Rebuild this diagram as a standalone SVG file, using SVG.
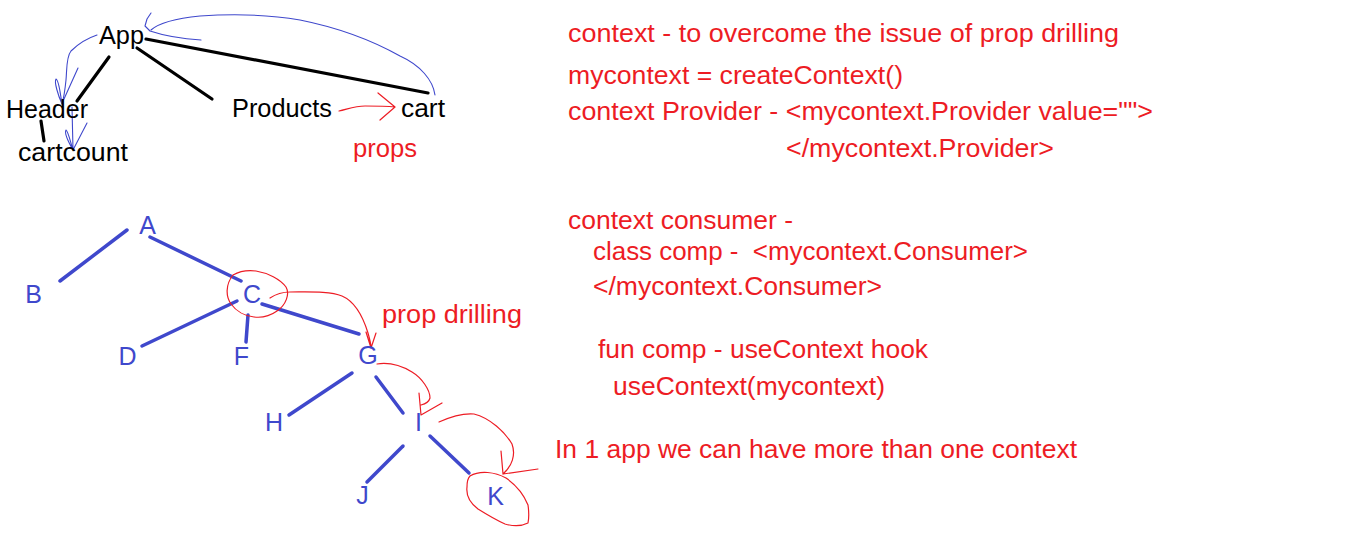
<svg xmlns="http://www.w3.org/2000/svg" width="1360" height="551" viewBox="0 0 1360 551">
<style>
text{font-family:"Liberation Sans",Arial,sans-serif;font-size:25px;white-space:pre}
.k{fill:#000}
.r{fill:#ed1c24}
.b{fill:#3f48cc}
.t{text-anchor:middle}
.bl{stroke:#000;stroke-width:3.2;fill:none;stroke-linecap:round}
.tl{stroke:#3f48cc;stroke-width:3.5;fill:none;stroke-linecap:round}
.th{stroke:#3f48cc;stroke-width:1.1;fill:none;stroke-linecap:round;stroke-linejoin:round}
.rh{stroke:#ed1c24;stroke-width:1.2;fill:none;stroke-linecap:round;stroke-linejoin:round}
</style>
<rect width="1360" height="551" fill="#fff"/>
<g id="connectors">
<line class="bl" x1="109" y1="57" x2="77" y2="101"/>
<line class="bl" x1="137" y1="48" x2="212" y2="99"/>
<line class="bl" x1="146" y1="39" x2="428" y2="93"/>
<line class="bl" x1="41" y1="121" x2="44" y2="141"/>
<path class="th" d="M435,95 C433,80 420,65 400,56 C375,42 340,28 300,20 C265,14 230,14 200,16 C180,18 160,22 151,30"/>
<path class="th" d="M150,31 L145,26 L147,19 L151,13 M150,31 C165,36 185,39 201,40"/>
<path class="th" d="M97,35 C88,38 78,44 71,51 C66,57 67,70 66,80 C65,90 64,97 62,104"/>
<path class="th" d="M62,104 C58,95 54,82 56,79 C59,80 60,92 62,104 M64,99 L78,68"/>
<path class="th" d="M72,107 L73,150 M73,150 C69,143 64,133 66,130 C68,131 70,140 73,150 M73,150 L87,123"/>
<path class="rh" d="M339,111 C348,109 355,106 365,106 C375,106 385,106 395,107 M395,107 L378,93 M395,107 L380,120"/>
<line class="tl" x1="127" y1="230" x2="60" y2="281"/>
<line class="tl" x1="150" y1="237" x2="241" y2="281"/>
<line class="tl" x1="237" y1="301" x2="142" y2="346"/>
<line class="tl" x1="248" y1="315" x2="246" y2="342"/>
<line class="tl" x1="262" y1="304" x2="359" y2="334"/>
<line class="tl" x1="352" y1="373" x2="289" y2="415"/>
<line class="tl" x1="376" y1="377" x2="403" y2="413"/>
<line class="tl" x1="403" y1="446" x2="367" y2="482"/>
<line class="tl" x1="430" y1="436" x2="469" y2="473"/>
<path class="rh" d="M233,275 C240,271 248,270 256,271 C268,273 280,279 286,287 C290,294 286,305 277,311 C270,316 262,318 254,317 C245,316 236,311 231,304 C226,297 225,285 233,275"/>
<path class="rh" d="M270,298 C276,294 282,292 290,292 C310,292 330,291 342,296 C356,302 364,320 368,333 C370,340 371,344 371,348 M371,348 L366,332 M371,348 L376,333"/>
<path class="rh" d="M377,364 C390,362 402,366 412,372 C422,378 430,390 430,398 C429,402 425,404 421,405 M419,393 L421,415 L442,403"/>
<path class="rh" d="M439,422 C450,417 462,413 474,414 C490,418 505,432 512,444 C516,455 512,466 503,474 M501,451 L503,474 L538,469"/>
<path class="rh" d="M470,476 C480,470 495,472 506,478 C516,485 524,495 528,505 C529,512 529,518 528,523 C520,527 512,526 505,524 C496,520 486,514 478,509 C470,503 466,495 467,487 C467,482 468,478 470,476"/>
</g>
<g id="app"><text class="k" x="99" y="44" textLength="45" lengthAdjust="spacingAndGlyphs">App</text></g>
<g id="header"><text class="k" x="6" y="118" textLength="82" lengthAdjust="spacingAndGlyphs">Header</text></g>
<g id="cartcount"><text class="k" x="18" y="161" textLength="110" lengthAdjust="spacingAndGlyphs">cartcount</text></g>
<g id="products"><text class="k" x="232" y="117" textLength="100" lengthAdjust="spacingAndGlyphs">Products</text></g>
<g id="cart"><text class="k" x="401" y="117" textLength="44" lengthAdjust="spacingAndGlyphs">cart</text></g>
<g id="props-label"><text class="r" x="353" y="157" textLength="64" lengthAdjust="spacingAndGlyphs">props</text></g>
<g id="node-a"><text class="b t" x="147.5" y="234">A</text></g>
<g id="node-b"><text class="b t" x="33.5" y="303">B</text></g>
<g id="node-c"><text class="b t" x="252" y="303">C</text></g>
<g id="node-d"><text class="b t" x="127.5" y="365">D</text></g>
<g id="node-f"><text class="b t" x="241.5" y="365">F</text></g>
<g id="node-g"><text class="b t" x="368" y="364">G</text></g>
<g id="node-h"><text class="b t" x="274" y="431">H</text></g>
<g id="node-i"><text class="b t" x="418.5" y="431">I</text></g>
<g id="node-j"><text class="b t" x="362.5" y="504">J</text></g>
<g id="node-k"><text class="b t" x="495.5" y="505">K</text></g>
<g id="prop-drilling-label"><text class="r" x="382" y="323" textLength="140" lengthAdjust="spacingAndGlyphs">prop drilling</text></g>
<g id="notes">
<text class="r" x="568" y="42" textLength="551" lengthAdjust="spacingAndGlyphs">context - to overcome the issue of prop drilling</text>
<text class="r" x="568" y="84" textLength="335" lengthAdjust="spacingAndGlyphs">mycontext = createContext()</text>
<text class="r" x="568" y="120" textLength="585" lengthAdjust="spacingAndGlyphs">context Provider - &lt;mycontext.Provider value=""&gt;</text>
<text class="r" x="786" y="157" textLength="268" lengthAdjust="spacingAndGlyphs">&lt;/mycontext.Provider&gt;</text>
<text class="r" x="568" y="229" textLength="225" lengthAdjust="spacingAndGlyphs">context consumer -</text>
<text class="r" x="593" y="260" textLength="435" lengthAdjust="spacingAndGlyphs">class comp -  &lt;mycontext.Consumer&gt;</text>
<text class="r" x="593" y="295" textLength="289" lengthAdjust="spacingAndGlyphs">&lt;/mycontext.Consumer&gt;</text>
<text class="r" x="598" y="358" textLength="330" lengthAdjust="spacingAndGlyphs">fun comp - useContext hook</text>
<text class="r" x="613" y="395" textLength="272" lengthAdjust="spacingAndGlyphs">useContext(mycontext)</text>
<text class="r" x="555" y="458" textLength="522" lengthAdjust="spacingAndGlyphs">In 1 app we can have more than one context</text>
</g>
</svg>
